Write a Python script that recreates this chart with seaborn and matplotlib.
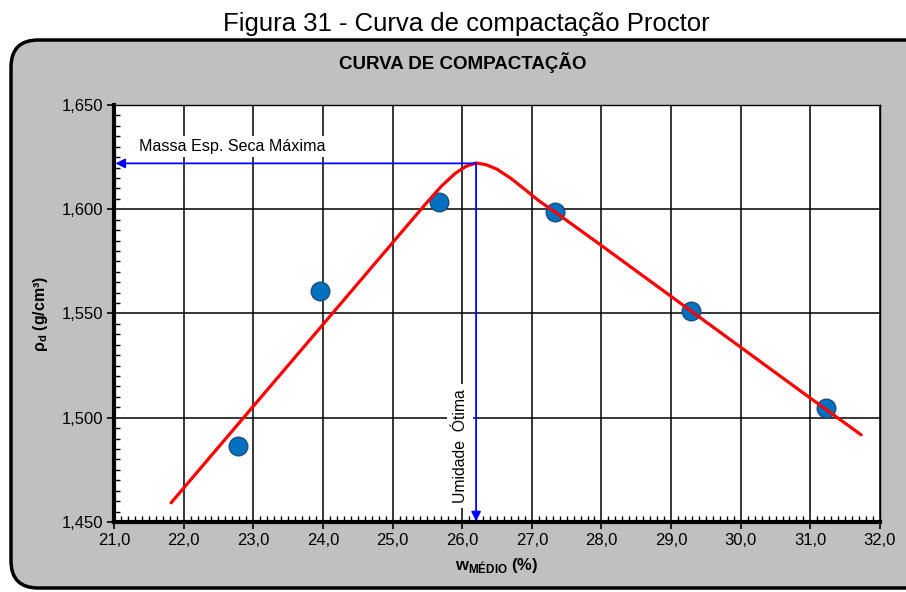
import matplotlib
matplotlib.use("Agg")
import matplotlib.pyplot as plt
import seaborn as sns
import pandas as pd
from matplotlib.patches import FancyBboxPatch
from matplotlib.ticker import MultipleLocator, FuncFormatter

# ---- data ----
w_medio = [22.78, 23.96, 25.67, 27.34, 29.28, 31.22]
rho_d = [1.4865, 1.5610, 1.6035, 1.5985, 1.5510, 1.5048]

curve_w = [21.82, 22.5, 23.5, 24.5, 25.3, 25.5, 25.7, 25.9, 26.05, 26.2, 26.35, 26.5, 26.7,
           26.9, 27.1, 27.34, 28.0, 29.0, 30.0, 31.0, 31.73]
curve_rho = [1.4592, 1.4859, 1.5251, 1.5643, 1.5957, 1.6035, 1.6110, 1.6172, 1.6205, 1.6222,
             1.6213, 1.6192, 1.6148, 1.6095, 1.6041, 1.5985, 1.5826, 1.5582, 1.5338, 1.5094, 1.4918]

w_otima = 26.2
rho_max = 1.622

fig_title = "Figura 31 - Curva de compactação Proctor"
chart_title = "CURVA DE COMPACTAÇÃO"

sns.set_theme(style="white")
plt.rcParams['font.family'] = ['Liberation Sans', 'DejaVu Sans']
plt.rcParams['text.color'] = 'black'
plt.rcParams['axes.labelcolor'] = 'black'
plt.rcParams['xtick.color'] = 'black'
plt.rcParams['ytick.color'] = 'black'
plt.rcParams['mathtext.fontset'] = 'custom'
plt.rcParams['mathtext.rm'] = 'Liberation Sans'
plt.rcParams['mathtext.bf'] = 'Liberation Sans:bold'

W, H = 906, 592
fig = plt.figure(figsize=(W / 100, H / 100), dpi=100)
fig.patch.set_facecolor("white")

# gray rounded panel
panel = FancyBboxPatch((11 / W, 4 / H), 930 / W, 548 / H,
                       boxstyle="round,pad=0,rounding_size=0.03",
                       transform=fig.transFigure, facecolor="#C0C0C0",
                       edgecolor="black", linewidth=2.5, zorder=-10,
                       mutation_aspect=W / H)
fig.patches.append(panel)

fig.text(466 / W, 1 - 24 / H, fig_title, ha="center", va="center", fontsize=18.5)
fig.text(463 / W, 1 - 63 / H, chart_title, ha="center", va="center", fontsize=13.5, fontweight="bold")

ax = fig.add_axes([114 / W, 1 - 522 / H, (880 - 114) / W, (522 - 105) / H])
ax.set_facecolor("white")

curve_df = pd.DataFrame({"w": curve_w, "rho": curve_rho})
pts_df = pd.DataFrame({"w": w_medio, "rho": rho_d})

sns.lineplot(data=curve_df, x="w", y="rho", ax=ax, color="#FF0000", linewidth=2.3,
             sort=False, zorder=4)
sns.scatterplot(data=pts_df, x="w", y="rho", ax=ax, s=180, color="#0070C0",
                edgecolor="#1F4E79", linewidth=1.0, zorder=3)

ax.set_xlim(21, 32)
ax.set_ylim(1.45, 1.65)
ax.xaxis.set_major_locator(MultipleLocator(1.0))
ax.xaxis.set_minor_locator(MultipleLocator(0.1))
ax.yaxis.set_major_locator(MultipleLocator(0.05))
ax.yaxis.set_minor_locator(MultipleLocator(0.005))
ax.xaxis.set_major_formatter(FuncFormatter(lambda v, p: f"{v:.1f}".replace(".", ",")))
ax.yaxis.set_major_formatter(FuncFormatter(lambda v, p: f"{v:.3f}".replace(".", ",")))
ax.grid(True, which="major", color="black", linewidth=1.1, zorder=1)
ax.set_axisbelow(True)

for s in ["top", "right"]:
    ax.spines[s].set_linewidth(1.0)
    ax.spines[s].set_color("black")
for s in ["left", "bottom"]:
    ax.spines[s].set_linewidth(3.0)
    ax.spines[s].set_color("black")

ax.tick_params(axis="both", which="major", direction="out", length=5, width=1.2,
               labelsize=12, colors="black", left=True, bottom=True, pad=3)
ax.tick_params(axis="both", which="minor", direction="in", length=4, width=1.0,
               colors="black", left=True, bottom=True)

ax.set_xlabel(r"w$_{\mathbf{MÉDIO}}$ (%)", fontsize=12, fontweight="bold", labelpad=6)
ax.set_ylabel(r"ρ$_{\mathbf{d}}$ (g/cm³)", fontsize=11.5, fontweight="bold", labelpad=8)

# annotations
ax.annotate("", xy=(21.02, rho_max), xytext=(w_otima, rho_max),
            arrowprops=dict(arrowstyle="-|>", color="#0000FF", lw=1.3, mutation_scale=14,
                            shrinkA=0, shrinkB=0), zorder=5)
ax.annotate("", xy=(w_otima, 1.4503), xytext=(w_otima, rho_max),
            arrowprops=dict(arrowstyle="-|>", color="#0000FF", lw=1.3, mutation_scale=14,
                            shrinkA=0, shrinkB=0), zorder=5)
ax.text(21.36, 1.6265, "Massa Esp. Seca Máxima", fontsize=11.6, ha="left", va="bottom", zorder=6,
        bbox=dict(facecolor="white", edgecolor="none", pad=2))
ax.text(25.97, 1.4865, "Umidade  Ótima", fontsize=11.3, rotation=90, ha="center", va="center",
        zorder=6, bbox=dict(facecolor="white", edgecolor="none", pad=4))

fig.savefig("out.png", dpi=100)
